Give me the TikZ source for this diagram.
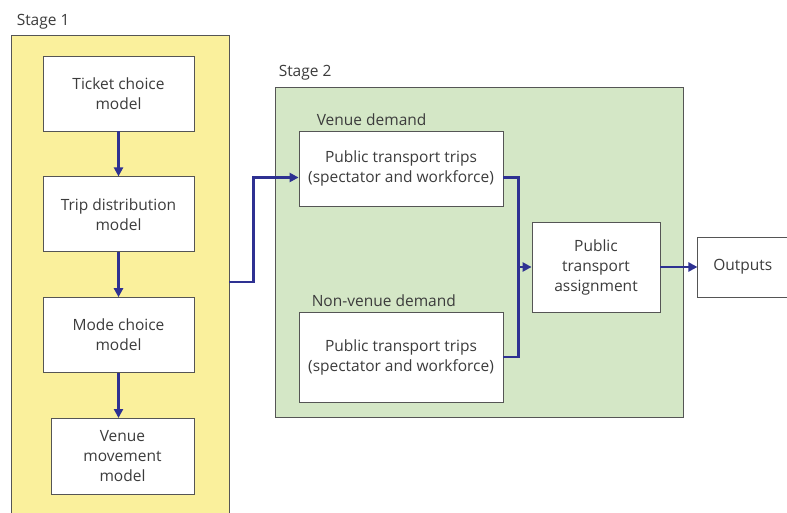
\documentclass[tikz,border=0pt]{standalone}
\usepackage{fontspec}
\setmainfont{Open Sans}
\usepackage{tikz}
\usetikzlibrary{arrows.meta,positioning}
\usepackage{xcolor}
\definecolor{stageyellow}{HTML}{FAF09C}
\definecolor{stagegreen}{HTML}{D4E7C6}
\definecolor{flowblue}{HTML}{2E3192}
\definecolor{textgray}{HTML}{3C3C3C}
\definecolor{edgegray}{HTML}{555555}

\begin{document}
\begin{tikzpicture}[
  x=1pt, y=-1pt,
  panel/.style={rectangle, draw=edgegray, line width=0.9pt, inner sep=0pt},
  box/.style={rectangle, draw=edgegray, fill=white, line width=0.8pt,
              minimum width=151pt, minimum height=75pt, align=center,
              text=textgray, font=\fontsize{15.5}{20}\selectfont},
  caption/.style={font=\fontsize{15.5}{18}\selectfont, text=textgray, inner sep=0pt},
  flow/.style={->, line width=2.4pt, flowblue},
  >={Triangle[length=9pt,width=9pt]},
  node distance=45pt
]
\useasboundingbox (0,0) rectangle (787,513);
\fill[white] (0,0) rectangle (787,513);

% Stage panels
\node[panel, fill=stageyellow, minimum width=218pt, minimum height=494pt] (stage1) at (120,282) {};
\node[panel, fill=stagegreen, minimum width=408pt, minimum height=330pt] (stage2) at (479,252) {};
\node[caption, above right=5pt and 6pt of stage1.north west] (stage1lbl) {Stage 1};
\node[caption, above right=6pt and 4pt of stage2.north west] (stage2lbl) {Stage 2};

% Stage 1 models
\node[box] (ticket) at (118.5,93.5) {Ticket choice\\model};
\node[box, below=of ticket] (tripdist) {Trip distribution\\model};
\node[box, below=of tripdist] (modechoice) {Mode choice\\model};
\node[box, below=of modechoice, minimum width=143pt, minimum height=76pt, xshift=4pt] (venuemove) {Venue\\movement\\model};

% Stage 2 demand and assignment
\node[box, minimum width=204pt] (venuetrips) at (401,168.5) {Public transport trips\\(spectator and workforce)};
\node[box, minimum width=204pt, minimum height=90pt] (othertrips) at (401,357) {Public transport trips\\(spectator and workforce)};
\node[caption, above right=5pt and 18pt of venuetrips.north west] (venuelbl) {Venue demand};
\node[caption, above right=5pt and 13pt of othertrips.north west] (otherlbl) {Non-venue demand};
\node[box, minimum width=128pt, minimum height=90pt] (assign) at (596,267) {Public\\transport\\assignment};
\node[box, minimum width=90pt, minimum height=60pt, right=37pt of assign] (outputs) {Outputs};

\draw[flow] (ticket) -- (tripdist);
\draw[flow] (tripdist) -- (modechoice);
\draw[flow] (modechoice) -- (modechoice.south |- venuemove.north);
\draw[flow] (stage1.east) -- ++(24,0) |- ([yshift=-9pt]venuetrips.west);

% both demand streams merge before the assignment
\coordinate (merge) at ([xshift=15pt]venuetrips.east |- assign.west);
\draw[flow, -] ([yshift=-9pt]venuetrips.east) -| (merge);
\draw[flow, -] (othertrips.east) -| (merge);
\draw[flow] (merge) -- (assign.west);
\draw[flow] (assign) -- (outputs);

\end{tikzpicture}
\end{document}
